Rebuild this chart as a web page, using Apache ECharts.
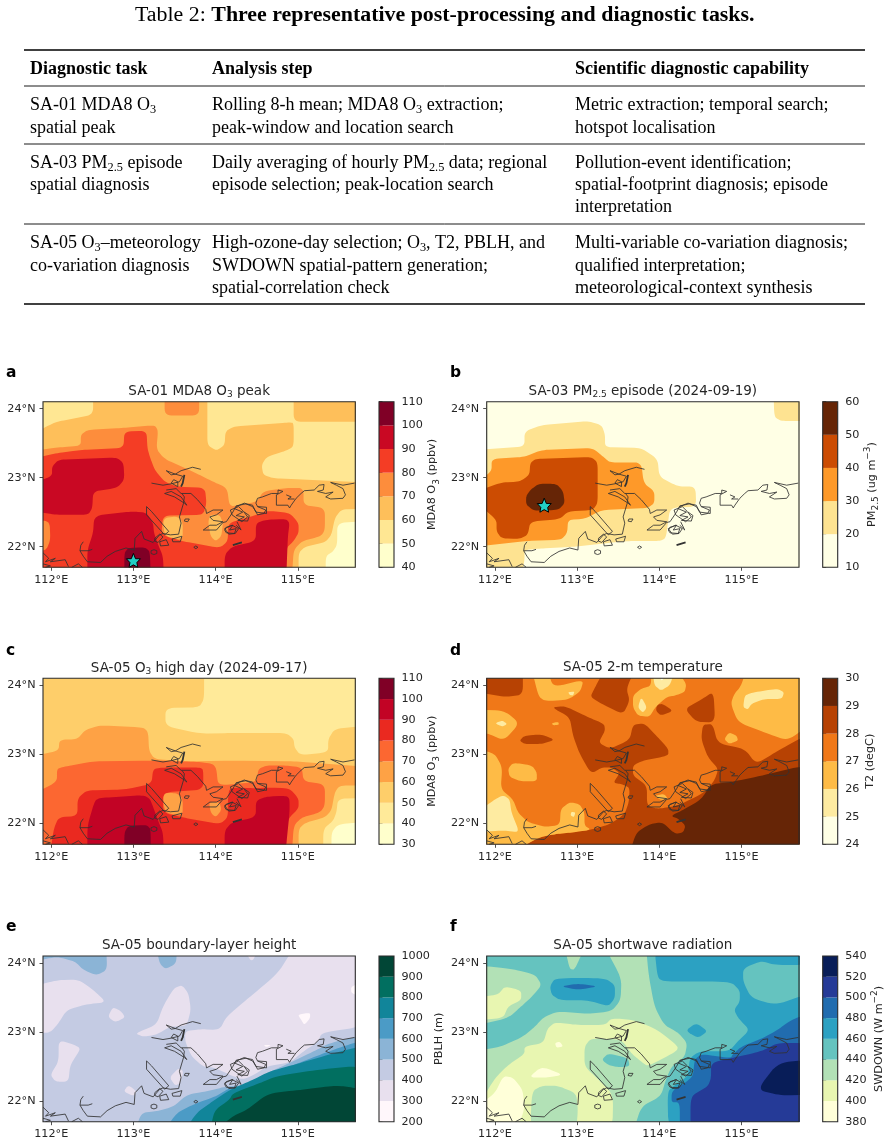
<!DOCTYPE html>
<html>
<head>
<meta charset="utf-8">
<style>html,body{margin:0;padding:0;background:#fff}#c{width:889px;height:1144px}</style>
<script src="https://cdn.jsdelivr.net/npm/echarts@6/dist/echarts.min.js"></script>
</head>
<body>
<div id="c"></div>
<script>
// ---- table content ----
const tableCaptionLabel = 'Table 2: ';
const tableCaptionText = 'Three representative post-processing and diagnostic tasks.';
const tableHeader = ['Diagnostic task', 'Analysis step', 'Scientific diagnostic capability'];
const tableRows = [
  [['SA-01 MDA8 O{s|3}', 'spatial peak'],
   ['Rolling 8-h mean; MDA8 O{s|3} extraction;', 'peak-window and location search'],
   ['Metric extraction; temporal search;', 'hotspot localisation']],
  [['SA-03 PM{s|2.5} episode', 'spatial diagnosis'],
   ['Daily averaging of hourly PM{s|2.5} data; regional', 'episode selection; peak-location search'],
   ['Pollution-event identification;', 'spatial-footprint diagnosis; episode', 'interpretation']],
  [['SA-05 O{s|3}–meteorology', 'co-variation diagnosis'],
   ['High-ozone-day selection; O{s|3}, T2, PBLH, and', 'SWDOWN spatial-pattern generation;', 'spatial-correlation check'],
   ['Multi-variable co-variation diagnosis;', 'qualified interpretation;', 'meteorological-context synthesis']]
];

// ---- map axes ----
const lonRange = [111.9, 115.7];
const latRange = [21.7, 24.1];
const lonTicks = [112, 113, 114, 115];
const latTicks = [22, 23, 24];
const fullDomain = [111.9,21.7, 115.7,21.7, 115.7,24.1, 111.9,24.1];

// ---- filled contour regions: [band lower bound, flat lon/lat ring], painted in order ----
const peakO3Levels = [40,50,60,70,80,90,100,110];
const peakO3Regions = [
  [60, fullDomain],
  [50, [111.9,24.1, 112.51,24.1, 112.51,23.91, 112.07,23.81, 111.94,23.74, 111.9,23.62]],
  [50, [113.9,24.1, 114.95,24.1, 114.95,23.81, 115.7,23.81, 115.7,22.93, 114.7,22.99, 114.58,23.04, 114.56,23.18, 114.62,23.3, 114.86,23.39, 114.95,23.45, 114.95,23.79, 114.9,23.8, 114.22,23.74, 114.12,23.67, 114.11,23.47, 114.01,23.39, 113.9,23.47]],
  [70, [113.38,24.1, 113.8,24.1, 113.8,23.9, 113.38,23.9]],
  [50, [115.7,22.55, 115.53,22.54, 115.45,22.41, 115.41,22.17, 115.33,22.06, 115.09,22, 115.01,21.91, 115.01,21.7, 115.7,21.7]],
  [40, [115.48,22.34, 115.7,22.37, 115.7,21.7, 115.34,21.7, 115.34,21.86, 115.43,21.93, 115.48,22.03]],
  [70, [111.9,23.39, 112.11,23.44, 112.36,23.46, 112.36,23.62, 112.44,23.69, 112.88,23.72, 113.26,23.76, 113.3,23.68, 113.28,23.41, 113.38,23.27, 113.77,23.06, 113.97,22.94, 114.14,22.85, 114.17,22.58, 114.32,22.61, 114.5,22.65, 114.58,22.8, 114.86,22.85, 115.07,22.85, 115.07,22.6, 115.33,22.56, 115.33,22.24, 115.28,22.15, 115.05,22.08, 114.95,21.95, 114.93,21.7, 111.9,21.7]],
  [80, [111.9,23.28, 112.05,23.35, 112.35,23.4, 112.88,23.43, 112.89,23.67, 113.16,23.68, 113.17,23.43, 113.2,23.3, 113.26,23.11, 113.38,22.94, 113.53,22.87, 113.87,22.85, 113.89,22.63, 113.85,22.46, 113.36,22.45, 113.34,22.17, 113.59,22.08, 114.05,21.98, 114.15,22.08, 114.15,22.34, 114.5,22.46, 114.62,22.52, 114.9,22.49, 115.01,22.34, 115.01,22.2, 114.95,22.08, 114.86,21.98, 114.86,21.7, 111.9,21.7]],
  [60, [113.36,22.41, 113.53,22.44, 113.6,22.36, 113.6,22.1, 113.38,22.15]],
  [60, [113.93,22.46, 114.05,22.46, 114.09,22.34, 114.07,22.15, 114,22.08, 113.94,22.15, 113.91,22.34]],
  [70, [111.9,22.38, 111.98,22.37, 111.99,22.1, 111.94,21.95, 111.9,21.91]],
  [90, [111.9,22.92, 112.01,23.02, 112.01,23.16, 112.09,23.26, 112.8,23.29, 112.88,23.21, 112.89,22.97, 112.8,22.85, 112.51,22.8, 112.5,22.56, 112.45,22.46, 112.07,22.46, 111.9,22.51]],
  [90, [112.44,21.7, 112.44,21.95, 112.51,22.2, 112.52,22.4, 112.59,22.46, 113,22.51, 113.16,22.49, 113.24,22.34, 113.25,22.2, 113.3,22.03, 113.36,21.86, 113.37,21.7]],
  [90, [114.11,21.7, 114.11,21.88, 114.2,22, 114.49,22.08, 114.49,22.34, 114.62,22.39, 114.86,22.4, 114.9,22.34, 114.88,22.15, 114.86,21.7]],
  [100, [112.89,21.7, 112.89,21.91, 112.94,21.98, 113.14,21.99, 113.2,21.93, 113.21,21.7]]
];

const pmLevels = [10,20,30,40,50,60];
const pmRegions = [
  [10, fullDomain],
  [20, [115.39,24.1, 115.7,24.1, 115.7,23.82, 115.48,23.82, 115.4,23.88]],
  [20, [111.9,23.4, 112.36,23.45, 112.36,23.67, 112.57,23.76, 113.13,23.82, 113.3,23.76, 113.34,23.62, 113.34,23.44, 113.78,23.43, 113.98,23.27, 114,23.01, 114.23,22.87, 114.44,22.87, 114.45,22.58, 114.13,22.56, 114.08,22.12, 114,22.08, 113.6,22.08, 112.99,22, 112.53,21.97, 112.36,21.95, 112.36,21.81, 112.33,21.7, 111.9,21.7]],
  [30, [111.9,22.94, 111.96,23.09, 111.96,23.27, 112.36,23.3, 112.57,23.4, 113.19,23.43, 113.34,23.28, 113.4,23.22, 113.78,23.22, 113.81,22.92, 113.94,22.8, 113.94,22.63, 113.86,22.56, 113.3,22.53, 113.09,22.4, 112.89,22.39, 112.88,22.2, 112.81,22.1, 112.36,22.08, 111.9,22]],
  [40, [111.9,22.8, 112.08,22.93, 112.3,22.94, 112.42,23.04, 112.43,23.21, 112.49,23.27, 113.17,23.3, 113.25,23.22, 113.25,22.63, 113.19,22.53, 112.89,22.51, 112.79,22.4, 112.43,22.36, 112.4,22.17, 112.3,22.11, 112.08,22.12, 112.02,22.22, 112.02,22.39, 111.9,22.63]],
  [50, [112.38,22.73, 112.43,22.82, 112.53,22.91, 112.75,22.91, 112.83,22.8, 112.85,22.63, 112.77,22.53, 112.47,22.52, 112.38,22.61]]
];

const highDayO3Levels = [30,40,50,60,70,80,90,100,110];
const highDayO3Regions = [
  [50, fullDomain],
  [40, [113.86,24.1, 115.7,24.1, 115.7,23.41, 115.45,23.37, 115.37,23.22, 115.37,23.03, 115.03,22.99, 114.96,23.1, 114.95,23.22, 114.86,23.31, 114.22,23.31, 113.81,23.3, 113.39,23.41, 113.39,23.67, 113.8,23.68, 113.86,23.8]],
  [60, [111.9,22.98, 112.09,23.05, 112.1,23.21, 112.32,23.22, 112.41,23.35, 112.59,23.42, 113.12,23.39, 113.18,23.32, 113.19,23.05, 113.26,22.93, 113.65,22.9, 114.22,22.91, 114.95,22.9, 115.7,22.82, 115.7,22.55, 115.51,22.55, 115.45,22.45, 115.41,22.19, 115.33,22.09, 115.09,22.01, 115.01,21.92, 115.01,21.7, 111.9,21.7]],
  [40, [115.49,22.36, 115.7,22.37, 115.7,21.7, 115.31,21.7, 115.31,21.92, 115.43,22.04, 115.47,22.16]],
  [30, [115.41,21.7, 115.41,21.87, 115.49,21.99, 115.7,22.02, 115.7,21.7]],
  [70, [111.9,22.43, 112.07,22.6, 112.07,22.79, 112.15,22.82, 112.51,22.9, 113.2,22.91, 113.81,22.89, 113.97,22.86, 114.01,22.79, 114.03,22.55, 114.5,22.6, 114.52,22.79, 114.62,22.84, 114.86,22.84, 115.05,22.81, 115.07,22.61, 115.33,22.57, 115.33,22.26, 115.27,22.16, 115.05,22.09, 114.95,21.97, 114.93,21.7, 111.9,21.7]],
  [80, [111.99,21.7, 112.03,21.92, 112.09,22.09, 112.32,22.11, 112.32,22.36, 112.43,22.48, 112.88,22.49, 113.22,22.57, 113.24,22.79, 113.36,22.81, 113.81,22.81, 113.85,22.78, 113.85,22.49, 113.36,22.45, 113.36,22.16, 113.59,22.09, 114.05,21.99, 114.15,22.09, 114.15,22.36, 114.17,22.52, 114.5,22.51, 114.62,22.52, 114.9,22.51, 115.01,22.36, 115.01,22.22, 114.9,22.09, 114.86,21.97, 114.86,21.7]],
  [60, [113.36,22.44, 113.53,22.44, 113.6,22.36, 113.6,22.11, 113.38,22.16]],
  [60, [113.92,22.31, 114.05,22.31, 114.07,22.19, 114,22.09, 113.94,22.16]],
  [90, [112.44,21.7, 112.44,21.97, 112.53,22.33, 112.59,22.37, 113.12,22.41, 113.2,22.36, 113.25,22.21, 113.3,22.04, 113.36,21.87, 113.37,21.7]],
  [90, [114.11,21.7, 114.11,21.9, 114.2,22.02, 114.49,22.09, 114.49,22.33, 114.62,22.39, 114.86,22.4, 114.9,22.36, 114.9,22.16, 114.85,21.7]],
  [100, [112.89,21.7, 112.89,21.87, 112.94,21.97, 113.16,21.98, 113.21,21.92, 113.21,21.7]]
];

const t2Levels = [24,25,26,27,28,29,30];
const t2Regions = [
  [27, fullDomain],
  [28, [112.22,21.7, 112.53,21.8, 112.75,21.85, 112.93,21.87, 113.17,21.91, 113.4,21.99, 113.58,22.14, 113.63,22.31, 113.64,22.52, 113.54,22.57, 113.44,22.59, 113.52,22.73, 113.42,22.81, 113.3,22.81, 113.17,22.72, 113.03,23.01, 112.95,23.27, 112.91,23.54, 112.69,23.68, 112.85,23.7, 113.13,23.54, 113.33,23.44, 113.34,23.34, 113.26,23.17, 113.4,23.08, 113.64,23.21, 113.68,23.43, 113.82,23.45, 113.98,23.25, 114.11,23.08, 114.11,22.98, 113.8,22.91, 113.68,22.84, 113.68,22.69, 113.85,22.55, 113.85,22.26, 113.98,22.21, 114.23,22.26, 114.55,22.45, 114.67,22.62, 114.72,22.79, 114.59,22.96, 114.51,23.22, 114.53,23.43, 114.65,23.44, 114.71,23.16, 115.04,23.08, 115.18,22.86, 115.44,23.05, 115.7,23.3, 115.7,21.7]],
  [28, [113.33,24.1, 113.7,24.1, 113.6,23.95, 113.64,23.78, 113.56,23.58, 113.33,23.71, 113.16,23.83, 113.21,23.95]],
  [28, [114.04,23.73, 114.17,23.63, 114.02,23.56, 113.96,23.63, 113.97,23.72]],
  [28, [114.66,23.91, 114.68,23.46, 114.45,23.47, 114.31,23.66, 114.51,23.79]],
  [28, [112.3,23.2, 112.36,23.27, 112.57,23.29, 112.73,23.21, 112.57,23.15, 112.36,23.15]],
  [28, [111.9,24.1, 112.34,24.1, 112.34,23.86, 112.12,23.83, 111.9,23.9]],
  [26, [112.45,24.1, 112.64,24.1, 112.71,23.97, 113.08,24.08, 113.04,23.91, 112.89,23.79, 112.61,23.77, 112.53,23.84]],
  [25, [112.89,23.9, 112.97,23.91, 112.95,23.85, 112.91,23.86]],
  [26, [113.9,24.1, 114.21,24.1, 114.33,24.02, 114.31,23.9, 114.19,23.85, 114.09,23.83, 113.95,23.68, 113.88,23.54, 113.74,23.56, 113.68,23.68, 113.68,23.85, 113.78,23.95, 113.9,23.99]],
  [25, [113.92,24.1, 114.19,24.1, 114.13,24, 114.02,23.92, 113.94,24]],
  [24, [113.98,24.1, 114.09,24.1, 114.03,24.04]],
  [25, [113.78,23.83, 113.85,23.68, 113.8,23.6, 113.74,23.68]],
  [26, [115.06,24.1, 115.65,24.1, 115.7,23.95, 115.7,23.42, 115.56,23.2, 115.32,23.3, 114.96,23.46, 114.87,23.73, 114.91,23.87, 114.99,23.98]],
  [25, [115.04,23.85, 115.12,23.89, 115.43,23.95, 115.52,23.9, 115.49,23.8, 115.27,23.8, 115.12,23.73, 115.08,23.65, 115.02,23.68]],
  [26, [114.79,23.22, 114.85,23.32, 114.94,23.27, 114.96,23.2, 114.85,23.15]],
  [26, [111.9,23.65, 112.12,23.63, 112.3,23.45, 112.11,23.2, 111.92,23.3, 111.9,23.32]],
  [25, [112,23.45, 112.09,23.49, 112.15,23.44, 112.09,23.4]],
  [26, [112.69,23.45, 112.77,23.47, 112.78,23.43, 112.71,23.42]],
  [26, [111.9,23.08, 112,23.01, 112.09,22.81, 112.07,22.5, 112.22,22.35, 112.28,22.16, 112.4,22.02, 112.61,21.95, 112.79,21.98, 112.8,22.21, 112.91,22.31, 113.03,22.28, 113.09,22.16, 113.09,21.97, 113.17,21.91, 112.93,21.87, 112.75,21.85, 112.53,21.8, 112.22,21.7, 111.9,21.7]],
  [25, [111.9,22.16, 112,22.35, 112.1,22.41, 112.18,22.35, 112.2,22.16, 112.3,21.87, 112.12,21.9, 111.9,21.88]],
  [25, [112.93,22.17, 112.98,22.16, 112.96,22.09, 112.92,22.12]],
  [26, [112.16,22.79, 112.22,22.88, 112.45,22.84, 112.51,22.74, 112.51,22.61, 112.32,22.61, 112.18,22.67]],
  [26, [113.94,22.4, 114.06,22.43, 114.11,22.35, 114.02,22.34]],
  [29, [113.64,21.7, 113.72,21.87, 113.88,21.99, 114.04,22.02, 114.19,21.85, 114.29,21.87, 114.32,21.97, 114.23,22.07, 114.14,22.11, 114.31,22.21, 114.51,22.35, 114.63,22.57, 114.87,22.6, 115.24,22.69, 115.7,22.86, 115.7,21.7]]
];

const pblhLevels = [200,300,400,500,600,700,800,900,1000];
const pblhRegions = [
  [400, fullDomain],
  [500, [111.9,24.1, 112.67,24.1, 112.68,23.9, 112.55,23.82, 112.39,23.9, 112.29,24.02, 112.07,24.09, 111.9,24.02]],
  [500, [113.28,24.1, 113.53,24.1, 113.52,23.99, 113.39,23.91, 113.32,23.99]],
  [300, [114.34,24.1, 114.53,24.1, 114.44,24]],
  [300, [114.95,24.1, 114.76,23.85, 114.42,23.51, 114.13,23.22, 114.05,23.03, 113.81,23.04, 113.63,23.01, 113.63,22.86, 113.71,22.64, 113.86,22.49, 113.97,22.49, 114.21,22.36, 114.34,22.31, 114.5,22.4, 114.62,22.5, 114.91,22.56, 115.07,22.72, 115.25,22.86, 115.29,22.99, 115.7,23.08, 115.7,24.1]],
  [200, [115.65,23.66, 115.7,23.73, 115.7,23.49, 115.65,23.56]],
  [200, [115,23.25, 115.15,23.28, 115.15,23.2, 115.08,23.1, 115.04,23.18]],
  [200, [114.58,22.81, 114.68,22.81, 114.62,22.78]],
  [300, [111.9,23.66, 112.07,23.75, 112.33,23.76, 112.51,23.61, 112.67,23.43, 112.43,23.4, 112.19,23.32, 112.09,23.13, 111.99,22.99, 111.9,22.98]],
  [300, [112.69,23.22, 112.75,23.36, 112.85,23.3, 112.9,23.21, 112.78,23.14]],
  [300, [113.02,22.98, 113.28,23.1, 113.36,23.37, 113.49,23.63, 113.59,23.68, 113.67,23.56, 113.7,23.32, 113.65,23.1, 113.57,23.08, 113.45,23.08, 113.28,22.96, 113.12,22.93]],
  [300, [112.09,22.89, 112.33,22.79, 112.35,22.74, 112.23,22.52, 112.21,22.28, 112.05,22.28, 111.99,22.38, 112.09,22.57]],
  [300, [112.88,22.14, 112.94,22.23, 113.04,22.14, 113,22.07]],
  [300, [113.44,22.34, 113.55,22.48, 113.61,22.43, 113.57,22.26, 113.51,22.22]],
  [500, [113.02,21.7, 113.1,21.83, 113.28,21.85, 113.49,21.92, 113.65,22.09, 113.89,22.14, 114.13,22.21, 114.36,22.23, 114.58,22.38, 114.9,22.55, 115.23,22.74, 115.39,22.84, 115.7,22.96, 115.7,21.7]],
  [600, [113.38,21.7, 113.53,21.83, 113.73,21.95, 114.01,22.07, 114.17,22.19, 114.42,22.25, 114.62,22.4, 114.95,22.52, 115.27,22.67, 115.55,22.79, 115.7,22.89, 115.7,21.7]],
  [700, [113.63,21.7, 113.77,21.83, 113.97,22, 114.17,22.16, 114.46,22.31, 114.66,22.43, 115.03,22.55, 115.43,22.69, 115.7,22.81, 115.7,21.7]],
  [800, [113.93,21.7, 113.99,21.87, 114.17,22.02, 114.21,22.11, 114.54,22.26, 114.74,22.36, 115.23,22.45, 115.7,22.52, 115.7,21.7]],
  [900, [114.01,21.7, 114.21,21.78, 114.38,21.87, 114.64,22.11, 115.03,22.16, 115.43,22.22, 115.59,22.21, 115.7,22.16, 115.7,21.7]]
];

const swdownLevels = [380,400,420,440,460,480,500,520,540];
const swdownRegions = [
  [440, fullDomain],
  [420, [111.9,23.97, 112.22,23.91, 112.49,23.83, 112.57,23.68, 112.45,23.51, 112.32,23.37, 112.16,23.2, 111.9,23.1]],
  [420, [112.85,24.1, 113.09,24.1, 112.97,23.9, 112.91,23.91]],
  [420, [111.9,21.7, 111.9,22.73, 112.06,22.78, 112.34,22.93, 112.49,23.08, 112.59,23.21, 112.77,23.3, 113.13,23.26, 113.42,23.3, 113.53,23.46, 113.54,23.78, 113.34,24.1, 113.84,24.1, 113.87,23.83, 113.94,23.37, 114.06,23.1, 114.23,22.99, 114.34,22.84, 114.31,22.64, 114.15,22.5, 114.08,22.31, 114.02,22.07, 113.78,21.92, 113.69,21.7]],
  [400, [111.9,23.5, 112.04,23.54, 112.12,23.66, 112.32,23.6, 112.32,23.46, 112.16,23.37, 112.1,23.2, 111.9,23.17]],
  [400, [111.9,21.9, 112,22.33, 112.16,22.52, 112.36,22.68, 112.36,22.79, 112.59,22.84, 112.64,23.05, 112.73,23.14, 113.01,23.1, 113.34,23.1, 113.42,23.2, 113.7,23.17, 113.98,23.03, 114.23,22.79, 114.21,22.72, 113.86,22.5, 113.78,22.57, 113.66,22.69, 113.54,22.89, 113.17,22.91, 113.09,22.79, 113.09,22.5, 113.26,22.31, 113.44,22.09, 113.43,21.7, 111.9,21.7]],
  [420, [112.43,21.7, 112.45,22.14, 112.57,22.22, 112.77,22.22, 112.99,22.11, 113.01,21.87, 112.99,21.7]],
  [380, [111.9,21.92, 112,22.11, 112.1,22.36, 112.22,22.34, 112.34,22.16, 112.36,21.87, 112.26,21.7, 111.9,21.7]],
  [380, [112.41,22.34, 112.57,22.5, 112.83,22.38, 112.65,22.34]],
  [380, [112.73,22.84, 112.79,22.86, 112.83,22.79, 112.75,22.77]],
  [440, [113.3,22.6, 113.38,22.69, 113.62,22.62, 113.64,22.5, 113.5,22.49, 113.38,22.52]],
  [460, [113.94,24.1, 115.7,24.1, 115.7,23.97, 115.4,23.97, 115.24,24.03, 115.02,23.92, 115.02,23.73, 115.12,23.49, 115.42,23.39, 115.7,23.56, 115.7,21.7, 114.11,21.7, 114.1,22.14, 114.19,22.23, 114.35,22.36, 114.37,22.62, 114.49,22.72, 114.85,22.72, 114.96,22.87, 115.1,23.03, 114.96,23.2, 114.91,23.32, 114.98,23.44, 114.98,23.6, 114.87,23.73, 114.06,23.73, 113.98,23.78]],
  [460, [114.32,23.02, 114.45,23.13, 114.59,23.01, 114.47,22.91]],
  [460, [112.67,23.66, 112.73,23.78, 113.34,23.78, 113.46,23.68, 113.46,23.49, 113.38,23.37, 113.13,23.46, 112.79,23.46, 112.69,23.54]],
  [480, [112.8,23.66, 113.01,23.7, 113.26,23.66, 113.01,23.61]],
  [480, [115.7,23.27, 115.6,23.17, 115.44,23.03, 115.26,22.91, 115,22.79, 114.89,22.67, 114.87,22.62, 114.51,22.68, 114.43,22.6, 114.41,22.36, 114.31,22.26, 114.19,22.18, 114.15,22.11, 114.15,21.98, 114.25,21.98, 114.25,21.7, 115.7,21.7]],
  [500, [115.7,22.84, 115.44,22.84, 115.28,22.74, 115.14,22.69, 114.87,22.62, 114.63,22.55, 114.63,22.33, 114.59,22.21, 114.41,22.09, 114.38,21.98, 114.38,21.7, 115.7,21.7]],
  [520, [115.19,22.16, 115.44,22.55, 115.7,22.6, 115.7,22.09, 115.48,22.08]]
];

// ---- coastline, islands and river channels as lon/lat traces ----
const coastTraces = [
  [111.9,21.91, 111.97,21.83, 111.93,21.78, 112.05,21.83, 111.99,21.78, 112.17,21.81, 112.21,21.71],
  [111.9,21.75, 111.99,21.72, 111.93,21.7],
  [112.25,21.7, 112.33,21.75, 112.38,21.7],
  [112.35,21.94, 112.45,21.94, 112.5,21.96],
  [112.39,22.07, 112.36,22.02, 112.35,21.94, 112.39,21.86, 112.44,21.78, 112.6,21.77, 112.68,21.86, 112.78,21.93, 112.91,21.98, 113.01,21.95, 113.02,22.12, 113.1,22.22, 113.13,22.11, 113.24,22.06, 113.32,22.17, 113.36,22.19, 113.45,22.17, 113.55,22.18, 113.58,22.34, 113.56,22.43, 113.61,22.63, 113.62,22.72, 113.59,22.77],
  [113.4,23.1, 113.51,23.05, 113.58,23.1, 113.72,23.15, 113.82,23.12],
  [113.4,23.1, 113.46,23.04, 113.51,23.05],
  [113.22,22.92, 113.36,22.89, 113.46,22.91, 113.56,22.94, 113.6,23.02, 113.51,23.05],
  [113.46,22.92, 113.54,22.87, 113.54,22.94, 113.49,22.97, 113.46,22.92],
  [113.38,22.77, 113.5,22.72, 113.62,22.63, 113.65,22.6, 113.58,22.72, 113.46,22.8, 113.38,22.77],
  [113.4,22.82, 113.52,22.84, 113.58,22.77, 113.7,22.77, 113.78,22.68, 113.88,22.54, 113.89,22.48, 113.97,22.53, 114.09,22.53, 114.01,22.46, 113.93,22.43, 113.97,22.38, 114.09,22.36, 114.01,22.31, 113.93,22.31, 113.85,22.24, 113.87,22.22, 114.01,22.24, 114.09,22.35, 114.13,22.36],
  [114.13,22.36, 114.21,22.5, 114.25,22.59, 114.37,22.62, 114.45,22.6, 114.49,22.5, 114.62,22.48, 114.62,22.57, 114.51,22.58, 114.49,22.63, 114.51,22.7, 114.57,22.72, 114.68,22.77, 114.76,22.77, 114.76,22.82, 114.82,22.8, 114.74,22.75, 114.74,22.6, 114.88,22.6, 114.9,22.56, 114.92,22.6, 114.98,22.7, 115.04,22.77, 115.08,22.81, 115.2,22.82, 115.26,22.89, 115.32,22.9, 115.31,22.82, 115.24,22.8, 115.34,22.77, 115.43,22.79, 115.34,22.72, 115.4,22.69, 115.55,22.7, 115.58,22.75, 115.55,22.84, 115.47,22.89, 115.4,22.93, 115.55,22.89, 115.69,22.92],
  [114.86,22.75, 114.92,22.72, 114.88,22.69, 114.96,22.69],
  [114.25,22.58, 114.35,22.63, 114.45,22.58, 114.49,22.51, 114.51,22.46, 114.59,22.48, 114.61,22.53, 114.51,22.58],
  [114.23,22.55, 114.33,22.5, 114.25,22.45, 114.35,22.43, 114.27,22.38, 114.39,22.37, 114.41,22.45, 114.35,22.5],
  [114.18,22.53, 114.28,22.58, 114.34,22.51, 114.39,22.43, 114.32,22.36, 114.26,22.41, 114.2,22.46, 114.18,22.53],
  [114.11,22.26, 114.2,22.31, 114.28,22.26, 114.24,22.19, 114.16,22.18, 114.11,22.26],
  [114.13,22.28, 114.21,22.31, 114.17,22.24, 114.25,22.26, 114.23,22.19, 114.13,22.2, 114.11,22.24, 114.13,22.28],
  [114.25,22.31, 114.31,22.24, 114.26,22.36],
  [113.16,22.58, 113.22,22.51, 113.43,22.22, 113.38,22.17, 113.16,22.46, 113.16,22.58],
  [113.25,21.955, 113.285,21.94, 113.285,21.9, 113.25,21.885, 113.215,21.9, 113.215,21.94, 113.25,21.955],
  [113.76,22.01, 113.785,21.99, 113.76,21.97, 113.735,21.99, 113.76,22.01],
  [113.26,22.12, 113.32,22.18, 113.36,22.14, 113.3,22.06, 113.26,22.08, 113.26,22.12],
  [113.32,22.07, 113.4,22.1, 113.43,22.02, 113.33,22.01, 113.32,22.07],
  [113.47,22.11, 113.59,22.15, 113.57,22.07, 113.48,22.07, 113.47,22.11],
  [113.63,22.4, 113.68,22.4, 113.66,22.36, 113.62,22.37, 113.63,22.4]
];
const coastHeavyTraces = [
  [113.62,23.04, 113.6,22.92, 113.58,22.87],
  [114.21,22.02, 114.32,22.06]
];
const peakO3Site = [113.0, 21.8];
const pmPeakSite = [112.6, 22.6];

// ---- styling ----
const ylOrRd7 = ['#FFFFCC','#FFE793','#FEBF5A','#FD8D3C','#F43D25','#C90823','#800026'];
const ylOrRd8 = ['#FFFFCC','#FFEA99','#FECE6A','#FEA245','#FC6731','#EA2920','#C20325','#800026'];
const ylOrBr5 = ['#FFFFE5','#FEE391','#FE9929','#CC4C02','#662506'];
const ylOrBr6 = ['#FFFFE5','#FEEBA1','#FEBB46','#F07818','#B74203','#662506'];
const puBuGn8 = ['#FFF7FB','#E8E0EE','#C4CBE3','#8BB4D6','#4B9BC6','#11859A','#016F60','#014636'];
const ylGnBu8 = ['#FFFFD9','#E8F6B1','#B2E1B6','#65C3BF','#2CA1C2','#216CAF','#253A97','#081D58'];
const SANS = '"DejaVu Sans"';
const SERIF = '"Liberation Serif"';
const INK = '#262626';
const STAR = 'path://M0,-10 L2.9,-3.1 L9.5,-3.1 L4.7,1.9 L5.9,8.1 L0,4.8 L-5.9,8.1 L-4.7,1.9 L-9.5,-3.1 L-2.9,-3.1 Z';
const subRich = {sub:{fontFamily:SANS,fontSize:9,color:INK,verticalAlign:'bottom',lineHeight:17},
                 sup:{fontFamily:SANS,fontSize:9,color:INK,verticalAlign:'top',lineHeight:17}};

const panels = [
  {letter:'a', title:'SA-01 MDA8 O{sub|3} peak', levels:peakO3Levels, regions:peakO3Regions, colors:ylOrRd7, label:'MDA8 O{sub|3} (ppbv)', nameGap:30, cut:7, site:peakO3Site, x:43, y:401.7, h:165.6, titleY:390.5, letterY:373},
  {letter:'b', title:'SA-03 PM{sub|2.5} episode (2024-09-19)', levels:pmLevels, regions:pmRegions, colors:ylOrBr5, label:'PM{sub|2.5} (ug m{sup|−3})', nameGap:24.5, cut:7, site:pmPeakSite, x:486.7, y:401.7, h:165.6, titleY:390.5, letterY:373},
  {letter:'c', title:'SA-05 O{sub|3} high day (2024-09-17)', levels:highDayO3Levels, regions:highDayO3Regions, colors:ylOrRd8, label:'MDA8 O{sub|3} (ppbv)', nameGap:30, cut:9, x:43, y:678.3, h:166, titleY:667.5, letterY:651},
  {letter:'d', title:'SA-05 2-m temperature', levels:t2Levels, regions:t2Regions, colors:ylOrBr6, label:'T2 (degC)', nameGap:27, cut:16, x:486.7, y:678.3, h:166, titleY:667.5, letterY:651},
  {letter:'e', title:'SA-05 boundary-layer height', levels:pblhLevels, regions:pblhRegions, colors:puBuGn8, label:'PBLH (m)', nameGap:38.5, cut:20, x:43, y:956, h:165.7, titleY:945, letterY:927},
  {letter:'f', title:'SA-05 shortwave radiation', levels:swdownLevels, regions:swdownRegions, colors:ylGnBu8, label:'SWDOWN (W m{sup|−2})', nameGap:31.5, cut:18, x:486.7, y:956, h:165.7, titleY:945, letterY:927}
];
const MAP_W = 312.3, BAR_GAP = 336, BAR_W = 15, LABEL_SIZE = 11.2;

// Vertices on the frame are pushed just outside it so corner rounding keeps fills flush with the edge.
function ringToPixels(flat, api) {
  const pts = [];
  for (let i = 0; i < flat.length; i += 2) {
    let lon = flat[i], lat = flat[i + 1];
    if (lon <= lonRange[0]) lon -= 0.12;
    if (lon >= lonRange[1]) lon += 0.12;
    if (lat <= latRange[0]) lat -= 0.12;
    if (lat >= latRange[1]) lat += 0.12;
    pts.push(api.coord([lon, lat]));
  }
  return pts;
}

// Replaces each vertex with a short quadratic arc, which rounds contour corners without overshoot.
function roundCorners(pts, cut) {
  const out = [], n = pts.length;
  for (let i = 0; i < n; i++) {
    const v = pts[i], a = pts[(i - 1 + n) % n], b = pts[(i + 1) % n];
    const la = Math.hypot(a[0] - v[0], a[1] - v[1]) || 1;
    const lb = Math.hypot(b[0] - v[0], b[1] - v[1]) || 1;
    const ta = Math.min(cut / la, 0.34), tb = Math.min(cut / lb, 0.34);
    const p1 = [v[0] + (a[0] - v[0]) * ta, v[1] + (a[1] - v[1]) * ta];
    const p2 = [v[0] + (b[0] - v[0]) * tb, v[1] + (b[1] - v[1]) * tb];
    for (let k = 0; k <= 6; k++) {
      const t = k / 6, u = 1 - t;
      out.push([u*u*p1[0] + 2*u*t*v[0] + t*t*p2[0], u*u*p1[1] + 2*u*t*v[1] + t*t*p2[1]]);
    }
  }
  return out;
}

function traceToLine(traces) {
  const out = [];
  traces.forEach(t => {
    for (let i = 0; i < t.length; i += 2) out.push([t[i], t[i + 1]]);
    out.push(['-', '-']);
  });
  return out;
}

const grid = [], xAxis = [], yAxis = [], series = [], title = [];

function frameSeries(gi, x0, y0, x1, y1) {
  return {
    type:'custom', xAxisIndex:gi, yAxisIndex:gi, z:20, silent:true, data:[[x0,y0]],
    renderItem:(p, api) => {
      const a = api.coord([x0, y1]), b = api.coord([x1, y0]);
      return {type:'rect', shape:{x:a[0], y:a[1], width:b[0]-a[0], height:b[1]-a[1]},
              style:{fill:'none', stroke:'#2b2b2b', lineWidth:1.1}};
    }
  };
}

panels.forEach(p => {
  // map axes
  const gi = grid.length;
  grid.push({left:p.x, top:p.y, width:MAP_W, height:p.h});
  const tickStyle = {show:true, length:3.5, lineStyle:{color:INK, width:0.8}};
  xAxis.push({type:'value', gridIndex:gi, min:lonRange[0], max:lonRange[1], splitLine:{show:false}, axisLine:{show:false},
    axisTick:Object.assign({customValues:lonTicks}, tickStyle),
    axisLabel:{customValues:lonTicks, formatter:v => v + '°E', color:INK, fontFamily:SANS, fontSize:LABEL_SIZE, margin:7}});
  yAxis.push({type:'value', gridIndex:gi, min:latRange[0], max:latRange[1], splitLine:{show:false}, axisLine:{show:false},
    axisTick:Object.assign({customValues:latTicks}, tickStyle),
    axisLabel:{customValues:latTicks, formatter:v => v + '°N', color:INK, fontFamily:SANS, fontSize:LABEL_SIZE, margin:7.5}});

  series.push({
    type:'custom', xAxisIndex:gi, yAxisIndex:gi, clip:true, silent:true, z:2,
    data:p.regions.map(r => [r[0], 0]),
    renderItem:(params, api) => {
      const r = p.regions[params.dataIndex];
      const band = p.levels.indexOf(r[0]);
      return {type:'polygon', shape:{points:roundCorners(ringToPixels(r[1], api), p.cut)}, style:{fill:p.colors[band]}};
    }
  });
  series.push({type:'line', xAxisIndex:gi, yAxisIndex:gi, z:5, silent:true, symbol:'none', connectNulls:false,
    data:traceToLine(coastTraces), lineStyle:{color:'#333', width:0.85}});
  series.push({type:'line', xAxisIndex:gi, yAxisIndex:gi, z:5, silent:true, symbol:'none', connectNulls:false,
    data:traceToLine(coastHeavyTraces), lineStyle:{color:'#333', width:1.8}});
  if (p.site) {
    series.push({type:'scatter', xAxisIndex:gi, yAxisIndex:gi, z:8, silent:true, symbol:STAR, symbolSize:14,
      data:[p.site], itemStyle:{color:'#22CFC6', borderColor:'#000', borderWidth:1, opacity:1}});
  }
  series.push(frameSeries(gi, lonRange[0], latRange[0], lonRange[1], latRange[1]));

  title.push({text:p.title, left:p.x + MAP_W / 2, top:p.titleY - 8, textAlign:'center', padding:0,
    textStyle:{fontFamily:SANS, fontSize:13.5, fontWeight:'normal', color:INK, rich:subRich, lineHeight:16}});

  // colour bar
  const bi = grid.length;
  const lo = p.levels[0], hi = p.levels[p.levels.length - 1];
  grid.push({left:p.x + BAR_GAP, top:p.y, width:BAR_W, height:p.h});
  xAxis.push({type:'value', gridIndex:bi, min:0, max:1, show:false});
  yAxis.push({type:'value', gridIndex:bi, position:'right', min:lo, max:hi, interval:p.levels[1] - p.levels[0],
    splitLine:{show:false}, axisLine:{show:false}, axisTick:tickStyle,
    axisLabel:{formatter:v => String(v), color:INK, fontFamily:SANS, fontSize:LABEL_SIZE, margin:7.5},
    name:p.label, nameLocation:'middle', nameRotate:90, nameGap:p.nameGap,
    nameTextStyle:{color:INK, fontFamily:SANS, fontSize:LABEL_SIZE, rich:subRich}});
  series.push({
    type:'custom', xAxisIndex:bi, yAxisIndex:bi, silent:true, z:2,
    data:p.levels.slice(0, -1).map((v, i) => [0, v, p.levels[i + 1]]),
    renderItem:(params, api) => {
      const a = api.coord([0, api.value(2)]), b = api.coord([1, api.value(1)]);
      return {type:'rect', shape:{x:a[0], y:a[1], width:b[0]-a[0], height:b[1]-a[1]},
              style:{fill:p.colors[params.dataIndex]}};
    },
    encode:{x:0, y:1}
  });
  series.push(frameSeries(bi, 0, lo, 1, hi));
});

// ---- table and panel letters ----
const TABLE_FONT = 18;
const CAPTION_FONT = 21.9;
const tableRich = {s:{fontFamily:SERIF, fontSize:12.3, fill:'#000', verticalAlign:'bottom', lineHeight:21}};
const colX = [30, 212, 575];
const ruleY = [[50, 1.6], [86, 0.9], [144, 0.9], [224, 0.9], [304, 1.6]];
const rowLineY = [[105.5, 128], [163, 185.5, 207.5], [243.5, 266, 288.5]];
const headerY = 69;
const graphic = [];
function cellText(str, x, y, weight) {
  graphic.push({type:'text', x:x, y:y, silent:true, style:{text:str, fontFamily:SERIF, fontSize:TABLE_FONT,
    fontWeight:weight || 'normal', fill:'#000', align:'left', verticalAlign:'middle', rich:tableRich}});
}
graphic.push({type:'text', x:135, y:15, silent:true, style:{
  text:tableCaptionLabel + '{b|' + tableCaptionText + '}', fontFamily:SERIF, fontSize:CAPTION_FONT, fill:'#000', align:'left', verticalAlign:'middle',
  rich:{b:{fontFamily:SERIF, fontSize:CAPTION_FONT, fontWeight:'bold', fill:'#000'}}}});
ruleY.forEach(r => graphic.push({type:'line', silent:true, shape:{x1:24, y1:r[0], x2:865, y2:r[0]}, style:{stroke:'#000', lineWidth:r[1]}}));
tableHeader.forEach((h, c) => cellText(h, colX[c], headerY, 'bold'));
tableRows.forEach((row, r) => row.forEach((cell, c) => cell.forEach((line, l) => cellText(line, colX[c], rowLineY[r][l]))));
panels.forEach(p => graphic.push({type:'text', x:p.x === 43 ? 6 : 450, y:p.letterY, silent:true,
  style:{text:p.letter, fontFamily:SANS, fontSize:15.5, fontWeight:'bold', fill:'#000', align:'left', verticalAlign:'middle'}}));

const chart = echarts.init(document.getElementById('c'));
chart.setOption({animation:false, backgroundColor:'#fff', title, grid, xAxis, yAxis, series, graphic});
</script>
</body>
</html>
